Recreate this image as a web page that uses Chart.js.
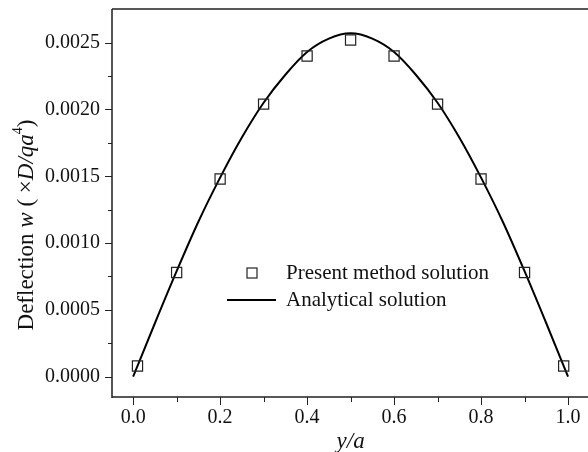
<!DOCTYPE html>
<html>
<head>
<meta charset="utf-8">
<script src="https://cdn.jsdelivr.net/npm/chart.js@4"></script>
<style>
    html, body { margin: 0; padding: 0; background: #fff; overflow: hidden; }
    #wrap { position: relative; width: 600px; height: 452px; }
</style>
</head>
<body>
<div id="wrap"><canvas id="myChart"></canvas></div>
<script>
// Present method: sampled deflection along the centre line
const methodY = [0.01, 0.1, 0.2, 0.3, 0.4, 0.5, 0.6, 0.7, 0.8, 0.9, 0.99];
const methodW = [0.00008, 0.00078, 0.00148, 0.00204, 0.00240, 0.00252, 0.00240, 0.00204, 0.00148, 0.00078, 0.00008];

// Analytical solution
const exactY = [0, 0.05, 0.1, 0.15, 0.2, 0.25, 0.3, 0.35, 0.4, 0.45, 0.5,
                0.55, 0.6, 0.65, 0.7, 0.75, 0.8, 0.85, 0.9, 0.95, 1.0];
const exactW = [0, 0.00040, 0.00079, 0.00116, 0.00149, 0.00179, 0.00205, 0.00226, 0.00243, 0.00253, 0.00257,
                0.00253, 0.00243, 0.00226, 0.00205, 0.00179, 0.00149, 0.00116, 0.00079, 0.00040, 0];

const xMajor = [0.0, 0.2, 0.4, 0.6, 0.8, 1.0];
const xMinor = [0.1, 0.3, 0.5, 0.7, 0.9];
const yMajor = [0.0000, 0.0005, 0.0010, 0.0015, 0.0020, 0.0025];
const yMinor = [0.00025, 0.00075, 0.00125, 0.00175, 0.00225];

const seriesNames = ['Present method solution', 'Analytical solution'];

const SERIF = '"Liberation Serif", "Times New Roman", serif';

// draws a run of text pieces (normal / italic / superscript) centred on 0,0
function drawRich(ctx, parts, size) {
    const fontOf = p => `${p.italic ? 'italic ' : ''}${p.sup ? Math.round(size * 0.62) : size}px ${SERIF}`;
    let total = 0;
    parts.forEach(p => { ctx.font = fontOf(p); total += ctx.measureText(p.text).width; });
    let x = -total / 2;
    ctx.textAlign = 'left';
    ctx.textBaseline = 'alphabetic';
    parts.forEach(p => {
        ctx.font = fontOf(p);
        ctx.fillText(p.text, x, p.sup ? -size * 0.5 : 0);
        x += ctx.measureText(p.text).width;
    });
}

const axesPlugin = {
    id: 'originAxes',
    afterDraw(chart) {
        const { ctx, chartArea: a, scales: { x, y } } = chart;
        ctx.save();
        ctx.fillStyle = '#111';

        // frame: left (grey), bottom and top
        ctx.strokeStyle = '#555';
        ctx.lineWidth = 2;
        ctx.beginPath();
        ctx.moveTo(a.left, a.top); ctx.lineTo(a.left, a.bottom + 1);
        ctx.stroke();
        ctx.strokeStyle = '#222';
        ctx.lineWidth = 1.5;
        ctx.beginPath();
        ctx.moveTo(a.left, a.bottom); ctx.lineTo(a.right, a.bottom);
        ctx.moveTo(a.left, a.top); ctx.lineTo(a.right, a.top);
        ctx.stroke();

        // ticks
        ctx.lineWidth = 1;
        ctx.beginPath();
        xMajor.forEach(v => { const px = Math.round(x.getPixelForValue(v)) + 0.5; ctx.moveTo(px, a.bottom); ctx.lineTo(px, a.bottom + 8); });
        xMinor.forEach(v => { const px = Math.round(x.getPixelForValue(v)) + 0.5; ctx.moveTo(px, a.bottom); ctx.lineTo(px, a.bottom + 5); });
        yMajor.forEach(v => { const py = Math.round(y.getPixelForValue(v)) + 0.5; ctx.moveTo(a.left, py); ctx.lineTo(a.left - 7, py); });
        yMinor.forEach(v => { const py = Math.round(y.getPixelForValue(v)) + 0.5; ctx.moveTo(a.left, py); ctx.lineTo(a.left - 4, py); });
        ctx.stroke();

        // tick labels
        ctx.font = `20px ${SERIF}`;
        ctx.textAlign = 'center';
        ctx.textBaseline = 'top';
        xMajor.forEach(v => ctx.fillText(v.toFixed(1), x.getPixelForValue(v), a.bottom + 11));
        ctx.textAlign = 'right';
        ctx.textBaseline = 'middle';
        yMajor.forEach(v => ctx.fillText(v.toFixed(4), a.left - 12, y.getPixelForValue(v)));

        // axis titles
        ctx.save();
        ctx.translate(x.getPixelForValue(0.5), 448);
        drawRich(ctx, [{ text: 'y/a', italic: true }], 23);
        ctx.restore();

        ctx.save();
        ctx.translate(33, 225);
        ctx.rotate(-Math.PI / 2);
        drawRich(ctx, [
            { text: 'Deflection ' },
            { text: 'w', italic: true },
            { text: ' ( \u00d7' },
            { text: 'D/qa', italic: true },
            { text: '4', sup: true },
            { text: ')' }
        ], 23);
        ctx.restore();

        // legend
        const [pts, line] = chart.data.datasets;
        ctx.font = `21px ${SERIF}`;
        ctx.textAlign = 'left';
        ctx.textBaseline = 'middle';
        ctx.strokeStyle = pts.borderColor;
        ctx.lineWidth = pts.borderWidth;
        ctx.strokeRect(247, 268, 10, 10);
        ctx.fillText(pts.label, 286, 273);
        ctx.strokeStyle = line.borderColor;
        ctx.lineWidth = line.borderWidth;
        ctx.beginPath();
        ctx.moveTo(227, 300); ctx.lineTo(276, 300);
        ctx.stroke();
        ctx.fillText(line.label, 286, 300);

        ctx.restore();
    }
};

document.addEventListener('DOMContentLoaded', () => {
    const ctx = document.getElementById('myChart');

    new Chart(ctx, {
        type: 'scatter',
        data: {
            datasets: [{
                label: seriesNames[0],
                data: methodY.map((v, i) => ({ x: v, y: methodW[i] })),
                pointStyle: 'rect',
                pointRadius: 7.2,
                borderColor: '#222',
                backgroundColor: 'rgba(0,0,0,0)',
                borderWidth: 1.2,
                showLine: false,
                order: 1
            }, {
                label: seriesNames[1],
                data: exactY.map((v, i) => ({ x: v, y: exactW[i] })),
                showLine: true,
                pointRadius: 0,
                borderColor: '#000',
                borderWidth: 2,
                cubicInterpolationMode: 'monotone',
                order: 2
            }]
        },
        options: {
            responsive: true,
            maintainAspectRatio: false,
            animation: false,
            layout: { padding: { left: 112, right: 0, top: 9, bottom: 55 } },
            scales: {
                x: { type: 'linear', display: false, min: -0.0486, max: 1.0542 },
                y: { type: 'linear', display: false, min: -0.000152, max: 0.002752 }
            },
            plugins: { legend: { display: false }, tooltip: { enabled: false } }
        },
        plugins: [axesPlugin]
    });
});
</script>
</body>
</html>
